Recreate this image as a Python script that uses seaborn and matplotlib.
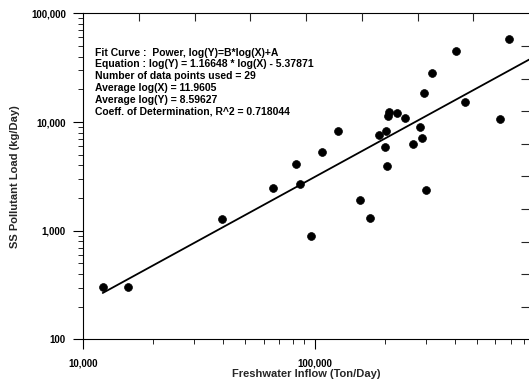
import pandas as pd
import numpy as np
import matplotlib
matplotlib.use('Agg')
import matplotlib.pyplot as plt
from matplotlib.ticker import FuncFormatter, LogLocator, NullFormatter
import seaborn as sns

# values (ton/day vs kg/day)
inflow = [12130, 15640, 39690, 65990, 82540, 86160, 96090, 107200, 126100, 156900,
          172800, 188300, 200500, 203100, 205500, 207200, 209300, 225900, 245300, 266100,
          285300, 290500, 295400, 299900, 320800, 406700, 444800, 625800, 684200]
ss_load = [304, 304, 1295, 2485, 4077, 2687, 899, 5255, 8199, 1903,
           1309, 7579, 5879, 8303, 3958, 11450, 12330, 12150, 10790, 6237,
           9035, 7158, 18550, 2391, 27970, 45110, 15340, 10630, 58040]

# fitted power curve, natural logs: ln(Y) = B*ln(X) + A
fit_B = 1.16648
fit_A = -5.37871
fit_info = [
    "Fit Curve :  Power, log(Y)=B*log(X)+A",
    "Equation : log(Y) = 1.16648 * log(X) - 5.37871",
    "Number of data points used = 29",
    "Average log(X) = 11.9605",
    "Average log(Y) = 8.59627",
    "Coeff. of Determination, R^2 = 0.718044",
]
x_lim = (10000, 838700)
y_lim = (100, 100000)

df = pd.DataFrame({'inflow': inflow, 'load': ss_load})
line_x = np.array([min(inflow), x_lim[1]])
fit_df = pd.DataFrame({'inflow': line_x, 'load': np.exp(fit_B * np.log(line_x) + fit_A)})

sns.set_style('white')
plt.rcParams['font.family'] = ['Liberation Sans', 'DejaVu Sans']

fig = plt.figure(figsize=(5.29, 3.80), dpi=100)
ax = fig.add_axes([0.1575, 0.1066, 0.8425, 0.8584])

sns.scatterplot(data=df, x='inflow', y='load', ax=ax, color='black', s=32,
                edgecolor='black', linewidth=0.5, zorder=3)
sns.lineplot(data=fit_df, x='inflow', y='load', ax=ax, color='black', linewidth=1.3)

ax.set_xscale('log')
ax.set_yscale('log')
ax.set_xlim(*x_lim)
ax.set_ylim(*y_lim)

comma = FuncFormatter(lambda v, p: f'{v:,.0f}')
for axis in (ax.xaxis, ax.yaxis):
    axis.set_major_locator(LogLocator(base=10))
    axis.set_minor_locator(LogLocator(base=10, subs=np.arange(2, 10)))
    axis.set_major_formatter(comma)
    axis.set_minor_formatter(NullFormatter())

ax.tick_params(axis='both', which='major', direction='out', length=7.5, width=0.8,
               labelsize=7, colors='black')
ax.tick_params(axis='both', which='minor', direction='out', length=3.5, width=0.7)
ax.tick_params(axis='x', which='major', pad=6)
ax.tick_params(axis='y', which='major', pad=5)
for lbl in ax.get_xticklabels() + ax.get_yticklabels():
    lbl.set_fontweight('bold')

for sp in ax.spines.values():
    sp.set_color('black')
    sp.set_linewidth(0.8)
ax.spines['right'].set_visible(False)

ax.set_xlabel('Freshwater Inflow (Ton/Day)', fontsize=8, fontweight='bold', labelpad=0.5)
ax.set_ylabel('SS Pollutant Load (kg/Day)', fontsize=8, fontweight='bold', labelpad=8)

# inward ticks on the top and right frame
top = ax.twiny()
top.set_xlim(0, 8)
top.set_xticks(range(1, 8))
top.tick_params(axis='x', direction='in', length=6, width=0.8, labeltop=False)
right = ax.twinx()
right.set_ylim(0, 10)
right.set_yticks(range(1, 10))
right.tick_params(axis='y', direction='in', length=6, width=0.8, labelright=False)
for a in (top, right):
    a.grid(False)
    for sp in a.spines.values():
        sp.set_visible(False)

ax.text(0.026, 0.895, '\n'.join(fit_info), transform=ax.transAxes, fontsize=7.5,
        fontweight='bold', va='top', ha='left', linespacing=1.23, color='black')

fig.savefig('out.png', dpi=100)
